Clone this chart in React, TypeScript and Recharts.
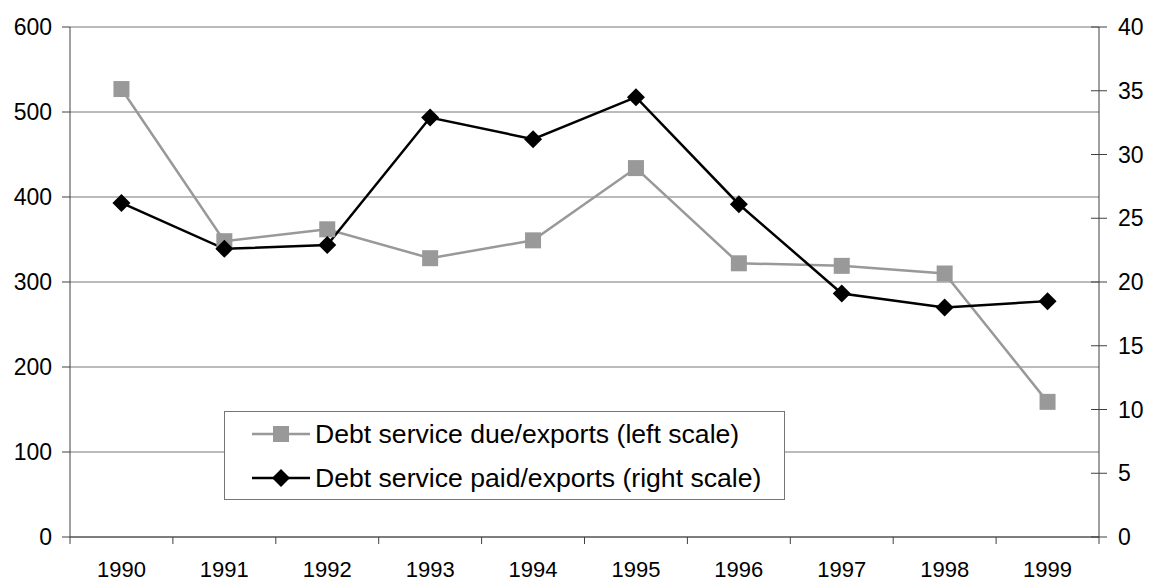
import { CartesianGrid, Line, LineChart, XAxis, YAxis } from 'recharts';

const years = ['1990', '1991', '1992', '1993', '1994', '1995', '1996', '1997', '1998', '1999'];
// debt service due / exports, left scale
const dueToExports = [527, 348, 362, 328, 349, 434, 322, 319, 310, 159];
// debt service paid / exports, right scale
const paidToExports = [26.2, 22.6, 22.9, 32.9, 31.2, 34.5, 26.1, 19.1, 18.0, 18.5];

const leftTicks = [0, 100, 200, 300, 400, 500, 600];
const rightTicks = [0, 5, 10, 15, 20, 25, 30, 35, 40];

const data = years.map((year, i) => ({
  year,
  due: dueToExports[i],
  paid: paidToExports[i],
}));

const FONT = '"Liberation Sans", Arial, sans-serif';
const AXIS = '#404040';
const GRID = '#767676';
const GRAY = '#999999';

const W = 1151;
const H = 581;
const PLOT_LEFT = 70;
const PLOT_RIGHT = 1099;
const BAND = (PLOT_RIGHT - PLOT_LEFT) / years.length;

const SquareDot = (props: any) => {
  const { cx, cy, index } = props;
  return <rect key={`sq-${index}`} x={cx - 8} y={cy - 8} width={16} height={16} fill={GRAY} />;
};

const DiamondDot = (props: any) => {
  const { cx, cy, index } = props;
  return (
    <path
      key={`dm-${index}`}
      d={`M${cx},${cy - 9} L${cx + 9},${cy} L${cx},${cy + 9} L${cx - 9},${cy} Z`}
      fill="#000"
    />
  );
};

// year labels sit in the middle of each band, tick marks fall on band edges
const YearTick = (props: any) => {
  const { x, y, payload, index } = props;
  const axisY = y - 24;
  const edge = x - BAND / 2;
  return (
    <g>
      <line x1={edge} y1={axisY} x2={edge} y2={axisY + 7} stroke={AXIS} />
      {index === years.length - 1 && (
        <line x1={x + BAND / 2} y1={axisY} x2={x + BAND / 2} y2={axisY + 7} stroke={AXIS} />
      )}
      <text x={x} y={y} dy="0.71em" textAnchor="middle" fontSize={22} fontFamily={FONT} fill="#000">
        {payload.value}
      </text>
    </g>
  );
};

// right scale ticks cross the axis line
const RightTick = (props: any) => {
  const { x, y, payload } = props;
  const axisX = x - 19;
  return (
    <g>
      <line x1={axisX - 8} y1={y} x2={axisX + 8} y2={y} stroke={AXIS} />
      <text x={x} y={y} dy="0.355em" textAnchor="start" fontSize={23} fontFamily={FONT} fill="#000">
        {payload.value}
      </text>
    </g>
  );
};

const legendRows = [
  { label: 'Debt service due/exports (left scale)', color: GRAY, shape: 'square' },
  { label: 'Debt service paid/exports (right scale)', color: '#000', shape: 'diamond' },
];

const LegendBox = () => (
  <div
    style={{
      position: 'absolute',
      left: 224,
      top: 411,
      width: 559,
      height: 87,
      border: `1px solid ${GRID}`,
      background: '#fff',
      fontFamily: FONT,
      fontSize: 26.6,
      color: '#000',
    }}
  >
    {legendRows.map((row, i) => (
      <div
        key={row.label}
        style={{ position: 'absolute', left: 27, top: 6 + i * 44, height: 32, display: 'flex', alignItems: 'center' }}
      >
        <svg width={58} height={32} style={{ marginRight: 5 }}>
          <line x1={0} y1={16} x2={58} y2={16} stroke={row.color} strokeWidth={2.5} />
          {row.shape === 'square' ? (
            <rect x={21} y={8} width={16} height={16} fill={row.color} />
          ) : (
            <path d="M29,7 L38,16 L29,25 L20,16 Z" fill={row.color} />
          )}
        </svg>
        <span style={{ whiteSpace: 'nowrap' }}>{row.label}</span>
      </div>
    ))}
  </div>
);

export default function App() {
  return (
    <div style={{ position: 'absolute', left: 0, top: 0, width: W, height: H, background: '#fff' }}>
      <LineChart width={W} height={H} data={data} margin={{ top: 27, right: 0, bottom: 14, left: 0 }}>
        <CartesianGrid yAxisId="left" vertical={false} stroke={GRID} strokeWidth={1} />
        <XAxis
          dataKey="year"
          scale="band"
          stroke={AXIS}
          tickLine={false}
          tickSize={0}
          tickMargin={24}
          tick={<YearTick />}
          interval={0}
          height={30}
        />
        <YAxis
          yAxisId="left"
          orientation="left"
          domain={[0, 600]}
          ticks={leftTicks}
          width={70}
          stroke={AXIS}
          tickSize={8}
          tickMargin={10}
          tick={{ fontSize: 23, fontFamily: FONT, fill: '#000' }}
        />
        <YAxis
          yAxisId="right"
          orientation="right"
          domain={[0, 40]}
          ticks={rightTicks}
          width={52}
          stroke={AXIS}
          tickLine={false}
          tickSize={0}
          tickMargin={19}
          tick={<RightTick />}
        />
        <Line
          yAxisId="left"
          dataKey="due"
          stroke={GRAY}
          strokeWidth={2.5}
          dot={SquareDot}
          activeDot={false}
          isAnimationActive={false}
        />
        <Line
          yAxisId="right"
          dataKey="paid"
          stroke="#000"
          strokeWidth={2.5}
          dot={DiamondDot}
          activeDot={false}
          isAnimationActive={false}
        />
      </LineChart>
      <LegendBox />
    </div>
  );
}
